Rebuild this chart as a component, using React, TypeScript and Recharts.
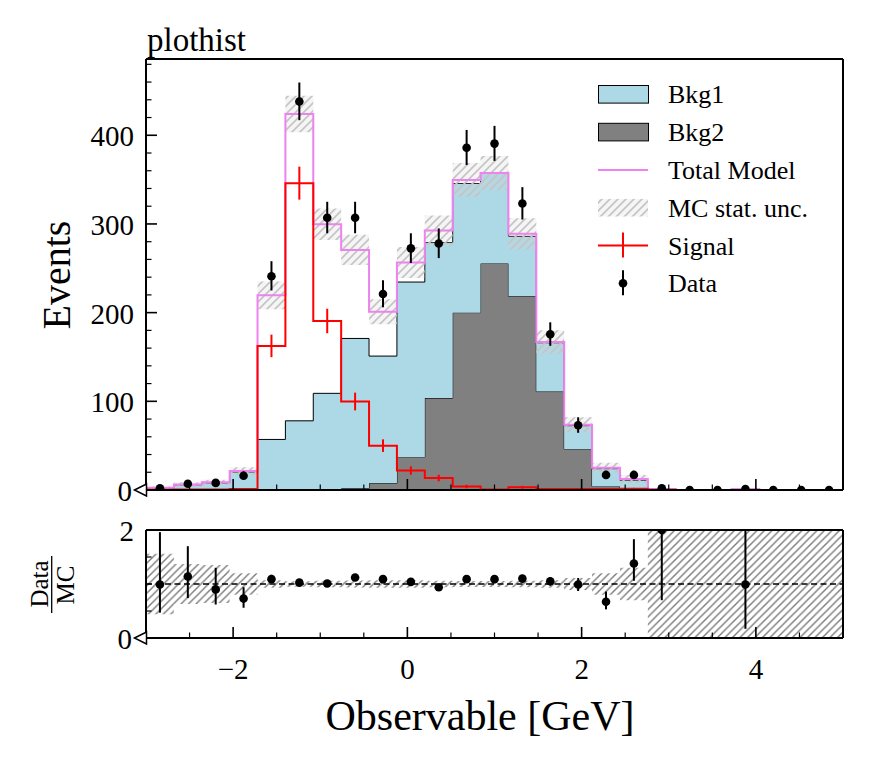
import React from "react";
import { ComposedChart, Area, Line, Scatter, ErrorBar, XAxis, YAxis, ReferenceLine, Legend } from "recharts";

const FONT = "'Liberation Serif', 'DejaVu Serif', serif";

// 25 bins between -3 and 5
const binEdges = [-3, -2.68, -2.36, -2.04, -1.72, -1.4, -1.08, -0.76, -0.44, -0.12, 0.2, 0.52, 0.84, 1.16, 1.48, 1.8, 2.12, 2.44, 2.76, 3.08, 3.4, 3.72, 4.04, 4.36, 4.68, 5];

const bkg1 = [2.3, 5.8, 8.0, 20.3, 57, 78, 108.5, 169, 143.5, 197.5, 175.4, 145.6, 101.5, 67.6, 55, 26.5, 20, 9.1, 0.6, 0, 0, 1.0, 0, 0, 0];
const bkg2 = [0, 0, 0, 0, 0, 0, 0.5, 1.9, 7.5, 37, 103.6, 200, 255.5, 218.4, 111, 46, 4, 1.9, 0.2, 0, 0, 0, 0, 0, 0];
const signal = [0.2, 0.5, 0.6, 1.0, 162.5, 346, 190.6, 99.8, 50, 22, 13.5, 4, 0.5, 3, 1, 1, 1.2, 1.3, 0.2, 0, 0, 0, 0, 0, 0];
const signalErr = [0.4, 0.7, 0.8, 1.0, 12.7, 18.6, 13.8, 10, 7.1, 4.7, 3.7, 2, 0.7, 1.7, 1, 1, 1.1, 1.1, 0.4, 0, 0, 0, 0, 0, 0];
const mcUnc = [1.4, 2.3, 3.0, 4.4, 15.6, 20.6, 17.8, 17, 14, 17.5, 17, 19, 19, 17.5, 13, 8.5, 5.6, 4.5, 0.5, 0, 0, 0.5, 0, 0, 0];

const dataCounts = [2, 7, 8, 16, 241, 438, 307, 307, 221, 272.5, 278, 386, 390.6, 323, 175.6, 73, 17, 17, 2, 0, 0, 1, 0, 0, 0];
const dataErrLow = [1.3, 2.6, 2.8, 4, 16, 21, 17.5, 17.5, 15, 16.5, 16.5, 19.5, 19.5, 18, 13, 8.5, 4, 4, 1.3, 0, 0, 0.8, 0, 0, 0];
const dataErrHigh = [2.6, 3.8, 4, 5, 17, 21.5, 18, 18, 15.5, 17, 17, 20, 20, 18.5, 13.5, 9, 4.6, 4.6, 2.6, 0, 0, 1.5, 0, 0, 0];

const ratioValues = [0.99, 1.14, 0.9, 0.73, 1.09, 1.025, 1.01, 1.12, 1.09, 1.04, 0.94, 1.09, 1.09, 1.1, 1.05, 0.99, 0.67, 1.38, 2.0, null, null, 0.99, null, null, null];
const ratioErrLow = [0.52, 0.4, 0.28, 0.17, 0.07, 0.05, 0.06, 0.065, 0.075, 0.065, 0.06, 0.055, 0.055, 0.06, 0.08, 0.12, 0.14, 0.32, 1.3, 0, 0, 0.82, 0, 0, 0];
const ratioErrHigh = [0.97, 0.56, 0.4, 0.21, 0.08, 0.05, 0.06, 0.065, 0.075, 0.065, 0.06, 0.055, 0.055, 0.06, 0.08, 0.12, 0.19, 0.45, 0, 0, 0, 1.01, 0, 0, 0];
const ratioUnc = [0.56, 0.37, 0.35, 0.2, 0.07, 0.05, 0.06, 0.065, 0.07, 0.07, 0.06, 0.055, 0.055, 0.06, 0.07, 0.11, 0.2, 0.3, 1, 1, 1, 1, 1, 1, 1];

const xMajorTicks = [-2, 0, 2, 4];
const xMinorTicks = [-2.5, -1.5, -1, -0.5, 0.5, 1, 1.5, 2.5, 3, 3.5, 4.5];
const yMajorTicks = [0, 100, 200, 300, 400];
const yMinorTicks = [20, 40, 60, 80, 120, 140, 160, 180, 220, 240, 260, 280, 320, 340, 360, 380, 420, 440, 460, 480];
const ratioMajorTicks = [0, 2];
const ratioMinorTicks = [0.5, 1, 1.5];
const legendLabels = ["Bkg1", "Bkg2", "Total Model", "MC stat. unc.", "Signal", "Data"];

const nBins = bkg1.length;
const histRows = binEdges.map((x, i) => {
  const k = Math.min(i, nBins - 1);
  const total = bkg1[k] + bkg2[k] + signal[k];
  return {
    x,
    bkg1: bkg1[k],
    bkg2: bkg2[k],
    signal: signal[k],
    total,
    band: [total - mcUnc[k], total + mcUnc[k]],
    ratioBand: [Math.max(0, 1 - ratioUnc[k]), Math.min(2, 1 + ratioUnc[k])],
  };
});
const centers = binEdges.slice(0, -1).map((e, i) => (e + binEdges[i + 1]) / 2);
const dataRows = centers.map((x, i) => ({ x, y: dataCounts[i], err: [dataErrLow[i], dataErrHigh[i]] }));
const signalRows = centers.map((x, i) => ({ x, y: signal[i], err: signalErr[i] })).filter((r) => r.y > 0);
const ratioRows = centers
  .map((x, i) => ({ x, y: ratioValues[i], err: [ratioErrLow[i], ratioErrHigh[i]] }))
  .filter((r) => r.y !== null);

const fmt = (v: number) => (v < 0 ? "\u2212" + Math.abs(v) : String(v));

const zeroMarker = (y: number) => (
  <polygon points={`134.5,${y} 146.5,${y - 6} 146.5,${y + 6}`} fill="#fff" stroke="#000" strokeWidth={1.5} />
);

const YLabelTick = (props: any) => {
  const { y, payload } = props;
  const v = payload.value;
  return (
    <g>
      <text x={v === 0 ? 132 : 134} y={y + 11} textAnchor="end" fontSize={29} fontFamily={FONT} fill="#000">
        {v}
      </text>
      {v === 0 && zeroMarker(y)}
    </g>
  );
};

const XLabelTick = (props: any) => {
  const { x, payload } = props;
  return (
    <text x={x} y={179} textAnchor="middle" fontSize={29} fontFamily={FONT} fill="#000">
      {fmt(payload.value)}
    </text>
  );
};

// inward tick marks, drawn from the reference line end points
const xTickShape = (len: number, w: number) => (p: any) => {
  const yb = Math.max(p.y1, p.y2);
  return <line x1={p.x1} y1={yb} x2={p.x1} y2={yb - len} stroke="#000" strokeWidth={w} />;
};
const yTickShape = (len: number, w: number) => (p: any) => {
  const xl = Math.min(p.x1, p.x2);
  return <line x1={xl} y1={p.y1} x2={xl + len} y2={p.y1} stroke="#000" strokeWidth={w} />;
};

const LegendBox = () => (
  <svg width={240} height={225}>
    {legendLabels.map((label, i) => {
      const cy = 19.3 + 37.8 * i;
      let handle: React.ReactNode = null;
      if (i === 0) handle = <rect x={8.5} y={cy - 8.8} width={50} height={17.6} fill="#add8e6" stroke="#000" strokeWidth={1} />;
      if (i === 1) handle = <rect x={8.5} y={cy - 8.8} width={50} height={17.6} fill="#808080" stroke="#000" strokeWidth={1} />;
      if (i === 2) handle = <line x1={8} y1={cy} x2={58} y2={cy} stroke="#ee82ee" strokeWidth={2} />;
      if (i === 3) handle = <rect x={8} y={cy - 8.8} width={50} height={17.6} fill="url(#hatchLight)" />;
      if (i === 4)
        handle = (
          <g stroke="#ff0000" strokeWidth={2}>
            <line x1={8} y1={cy} x2={58} y2={cy} />
            <line x1={33} y1={cy - 13} x2={33} y2={cy + 12} />
          </g>
        );
      if (i === 5)
        handle = (
          <g>
            <line x1={33} y1={cy - 13} x2={33} y2={cy + 12} stroke="#000" strokeWidth={2} />
            <circle cx={33} cy={cy} r={4.3} fill="#000" />
          </g>
        );
      return (
        <g key={label}>
          {handle}
          <text x={78} y={cy + 9} fontSize={26} fontFamily={FONT} fill="#000">
            {label}
          </text>
        </g>
      );
    })}
  </svg>
);

const dot = (p: any) => <circle cx={p.cx} cy={p.cy} r={4.3} fill="#000" />;
const noDot = () => <g />;
const frame = { stroke: "#000", strokeWidth: 2 };

export default function App() {
  return (
    <div style={{ position: "absolute", left: 0, top: 0, width: 873, height: 768, background: "#fff" }}>
      <svg width={0} height={0} style={{ position: "absolute" }}>
        <defs>
          <pattern id="hatchLight" patternUnits="userSpaceOnUse" width={8} height={8}>
            <rect width={8} height={8} fill="rgba(210,210,210,0.22)" />
            <path d="M-2,2 L2,-2 M0,8 L8,0 M6,10 L10,6" stroke="#c4c4c4" strokeWidth={1.6} />
          </pattern>
          <pattern id="hatchDark" patternUnits="userSpaceOnUse" width={7.5} height={7.5}>
            <path d="M-2,2 L2,-2 M0,7.5 L7.5,0 M5.5,9.5 L9.5,5.5" stroke="#7a7a7a" strokeWidth={1.4} />
          </pattern>
        </defs>
      </svg>

      <div style={{ position: "absolute", left: 0, top: 0 }}>
        <ComposedChart width={873} height={520} data={histRows} margin={{ top: 59, right: 30, bottom: 30, left: 146 }}>
          <Area dataKey="bkg2" stackId="bkg" type="stepAfter" fill="#808080" fillOpacity={1} stroke="#000" strokeWidth={1} dot={false} activeDot={false} isAnimationActive={false} />
          <Area dataKey="bkg1" stackId="bkg" type="stepAfter" fill="#add8e6" fillOpacity={1} stroke="#000" strokeWidth={1} dot={false} activeDot={false} isAnimationActive={false} />
          <Area dataKey="band" type="stepAfter" fill="url(#hatchLight)" fillOpacity={1} stroke="none" dot={false} activeDot={false} isAnimationActive={false} />
          <Line dataKey="total" type="stepAfter" stroke="#ee82ee" strokeWidth={2} dot={false} activeDot={false} isAnimationActive={false} />
          <Line dataKey="signal" type="stepAfter" stroke="#ff0000" strokeWidth={2} dot={false} activeDot={false} isAnimationActive={false} />
          <Scatter data={signalRows} dataKey="y" shape={noDot} isAnimationActive={false}>
            <ErrorBar dataKey="err" direction="y" width={0} stroke="#ff0000" strokeWidth={2} />
          </Scatter>
          <Scatter data={dataRows} dataKey="y" shape={dot} isAnimationActive={false}>
            <ErrorBar dataKey="err" direction="y" width={0} stroke="#000" strokeWidth={2} />
          </Scatter>
          {xMajorTicks.map((v) => (
            <ReferenceLine key={"xM" + v} x={v} shape={xTickShape(11, 1.6)} />
          ))}
          {xMinorTicks.map((v) => (
            <ReferenceLine key={"xm" + v} x={v} shape={xTickShape(5.5, 1.2)} />
          ))}
          {yMajorTicks.map((v) => (
            <ReferenceLine key={"yM" + v} y={v} shape={yTickShape(11, 1.6)} />
          ))}
          {yMinorTicks.map((v) => (
            <ReferenceLine key={"ym" + v} y={v} shape={yTickShape(5.5, 1.2)} />
          ))}
          <XAxis dataKey="x" type="number" domain={[-3, 5]} allowDataOverflow mirror ticks={xMajorTicks} interval={0} tick={false} tickLine={false} axisLine={frame} height={1} />
          <XAxis
            xAxisId="top"
            orientation="top"
            dataKey="x"
            type="number"
            domain={[-3, 5]}
            allowDataOverflow
            mirror
            ticks={[-3]}
            tick={false}
            tickLine={false}
            axisLine={frame}
            height={1}
            label={() => (
              <text x={147} y={51} fontSize={33} fontFamily={FONT} fill="#000">
                plothist
              </text>
            )}
          />
          <YAxis
            type="number"
            domain={[0, 486]}
            allowDataOverflow
            mirror
            ticks={yMajorTicks}
            interval={0}
            tick={YLabelTick}
            tickLine={false}
            axisLine={frame}
            width={1}
            label={() => (
              <text x={70} y={275} transform="rotate(-90, 70, 275)" textAnchor="middle" fontSize={40} fontFamily={FONT} fill="#000">
                Events
              </text>
            )}
          />
          <YAxis yAxisId="right" orientation="right" type="number" domain={[0, 486]} allowDataOverflow mirror ticks={[0]} tick={false} tickLine={false} axisLine={frame} width={1} />
          <Legend layout="vertical" align="center" verticalAlign="middle" wrapperStyle={{ left: 590, top: 75, width: 240, height: 225 }} content={() => <LegendBox />} />
        </ComposedChart>
      </div>

      <div style={{ position: "absolute", left: 0, top: 500 }}>
        <ComposedChart width={873} height={268} data={histRows} margin={{ top: 30, right: 30, bottom: 130, left: 146 }}>
          <Area dataKey="ratioBand" type="stepAfter" fill="url(#hatchDark)" fillOpacity={1} stroke="none" dot={false} activeDot={false} isAnimationActive={false} />
          <ReferenceLine y={1} stroke="#000" strokeWidth={1.5} strokeDasharray="6 3.5" />
          <Scatter data={ratioRows} dataKey="y" shape={dot} isAnimationActive={false}>
            <ErrorBar dataKey="err" direction="y" width={0} stroke="#000" strokeWidth={2} />
          </Scatter>
          {xMajorTicks.map((v) => (
            <ReferenceLine key={"rxM" + v} x={v} shape={xTickShape(11, 1.6)} />
          ))}
          {xMinorTicks.map((v) => (
            <ReferenceLine key={"rxm" + v} x={v} shape={xTickShape(5.5, 1.2)} />
          ))}
          {ratioMinorTicks.map((v) => (
            <ReferenceLine key={"rym" + v} y={v} shape={yTickShape(5.5, 1.2)} />
          ))}
          <XAxis
            dataKey="x"
            type="number"
            domain={[-3, 5]}
            allowDataOverflow
            mirror
            ticks={xMajorTicks}
            interval={0}
            tick={XLabelTick}
            tickLine={false}
            axisLine={frame}
            height={1}
            label={() => (
              <text x={480} y={230} textAnchor="middle" fontSize={42} fontFamily={FONT} fill="#000">
                Observable [GeV]
              </text>
            )}
          />
          <XAxis xAxisId="top" orientation="top" dataKey="x" type="number" domain={[-3, 5]} allowDataOverflow mirror ticks={[-3]} tick={false} tickLine={false} axisLine={frame} height={1} />
          <YAxis
            type="number"
            domain={[0, 2]}
            allowDataOverflow
            mirror
            ticks={ratioMajorTicks}
            interval={0}
            tick={YLabelTick}
            tickLine={false}
            axisLine={frame}
            width={1}
            label={() => (
              <g fontFamily={FONT} fill="#000">
                <text x={48} y={84} transform="rotate(-90, 48, 84)" textAnchor="middle" fontSize={25}>
                  Data
                </text>
                <line x1={51.7} y1={56} x2={51.7} y2={113} stroke="#000" strokeWidth={1.3} />
                <text x={74} y={85} transform="rotate(-90, 74, 85)" textAnchor="middle" fontSize={25}>
                  MC
                </text>
              </g>
            )}
          />
          <YAxis yAxisId="right" orientation="right" type="number" domain={[0, 2]} allowDataOverflow mirror ticks={[0]} tick={false} tickLine={false} axisLine={frame} width={1} />
        </ComposedChart>
      </div>
    </div>
  );
}
